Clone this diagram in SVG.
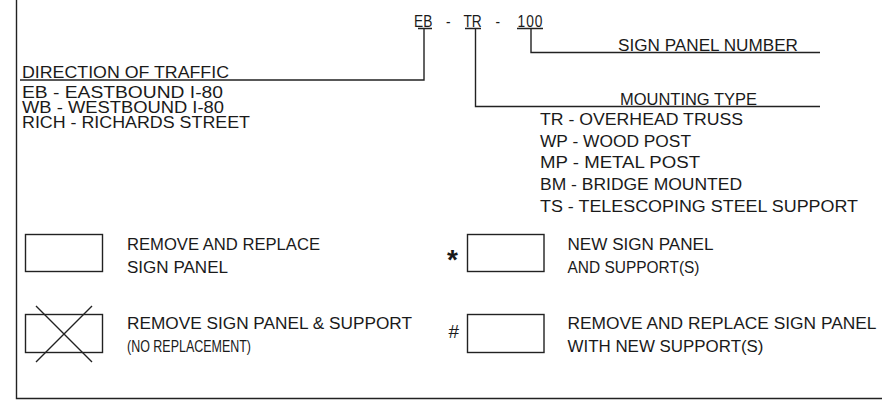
<svg xmlns="http://www.w3.org/2000/svg" width="882" height="402" viewBox="0 0 882 402">
<style>
text{font-family:"Liberation Sans",Arial,sans-serif;font-size:16px;fill:#1a1a1a;}
.ln{stroke:#222;stroke-width:1.4;fill:none;}
.box{stroke:#222;stroke-width:1.4;fill:#fff;}
</style>
<rect width="882" height="402" fill="#fff"/>
<g id="frame">
<path class="ln" d="M16.5,0 V398.5 H882"/>
</g>
<g id="code">
<text transform="translate(414,27) scale(0.86,1)"><tspan x="0">EB</tspan> <tspan x="37.2">-</tspan> <tspan x="57.5">TR</tspan> <tspan x="94.8">-</tspan> <tspan x="120.5" letter-spacing="1">100</tspan></text>
</g>
<g id="connectors">
<path class="ln" d="M418,28.5 H432 M424,28.5 V80 H20"/>
<path class="ln" d="M465,28.5 H481 M475.5,28.5 V106.5 H820"/>
<path class="ln" d="M517,28.5 H543 M531,28.5 V52.5 H820"/>
</g>
<g id="sign-panel-number">
<text x="618" y="51" textLength="180" lengthAdjust="spacingAndGlyphs">SIGN PANEL NUMBER</text>
</g>
<g id="direction">
<text x="22" y="78" textLength="207" lengthAdjust="spacingAndGlyphs">DIRECTION OF TRAFFIC</text>
<text x="22" y="97.5" textLength="201" lengthAdjust="spacingAndGlyphs">EB - EASTBOUND I-80</text>
<text x="22" y="112.5" textLength="202" lengthAdjust="spacingAndGlyphs">WB - WESTBOUND I-80</text>
<text x="22" y="127.5" textLength="228" lengthAdjust="spacingAndGlyphs">RICH - RICHARDS STREET</text>
</g>
<g id="mounting-type">
<text x="620" y="105" textLength="137" lengthAdjust="spacingAndGlyphs">MOUNTING TYPE</text>
<text x="540" y="125" textLength="203" lengthAdjust="spacingAndGlyphs">TR - OVERHEAD TRUSS</text>
<text x="540" y="146.7" textLength="151" lengthAdjust="spacingAndGlyphs">WP - WOOD POST</text>
<text x="540" y="168.3" textLength="160" lengthAdjust="spacingAndGlyphs">MP - METAL POST</text>
<text x="540" y="190" textLength="202" lengthAdjust="spacingAndGlyphs">BM - BRIDGE MOUNTED</text>
<text x="540" y="211.7" textLength="318" lengthAdjust="spacingAndGlyphs">TS - TELESCOPING STEEL SUPPORT</text>
</g>
<g id="legend-remove-replace">
<rect class="box" x="25.5" y="234.5" width="77" height="37"/>
<text x="127" y="249.5" textLength="193" lengthAdjust="spacingAndGlyphs">REMOVE AND REPLACE</text>
<text x="127" y="272.5" textLength="101" lengthAdjust="spacingAndGlyphs">SIGN PANEL</text>
</g>
<g id="legend-remove-no-replacement">
<rect class="box" x="25.5" y="314.5" width="77" height="38"/>
<path class="ln" d="M36,306 L92,362 M92,306 L36,362"/>
<text x="127" y="329" textLength="285" lengthAdjust="spacingAndGlyphs">REMOVE SIGN PANEL &amp; SUPPORT</text>
<text x="127" y="351.5" textLength="124" lengthAdjust="spacingAndGlyphs">(NO REPLACEMENT)</text>
</g>
<g id="legend-new">
<text x="447" y="269" style="font-size:28px;font-weight:bold">*</text>
<rect class="box" x="467.5" y="234.5" width="76.5" height="37"/>
<text x="567.5" y="249.5" textLength="146" lengthAdjust="spacingAndGlyphs">NEW SIGN PANEL</text>
<text x="567.5" y="272.5" textLength="132" lengthAdjust="spacingAndGlyphs">AND SUPPORT(S)</text>
</g>
<g id="legend-new-support">
<text x="448.5" y="338" style="font-size:19px">#</text>
<rect class="box" x="467.5" y="314.5" width="76.5" height="38"/>
<text x="567.5" y="329" textLength="309" lengthAdjust="spacingAndGlyphs">REMOVE AND REPLACE SIGN PANEL</text>
<text x="567.5" y="351.5" textLength="196" lengthAdjust="spacingAndGlyphs">WITH NEW SUPPORT(S)</text>
</g>
</svg>
